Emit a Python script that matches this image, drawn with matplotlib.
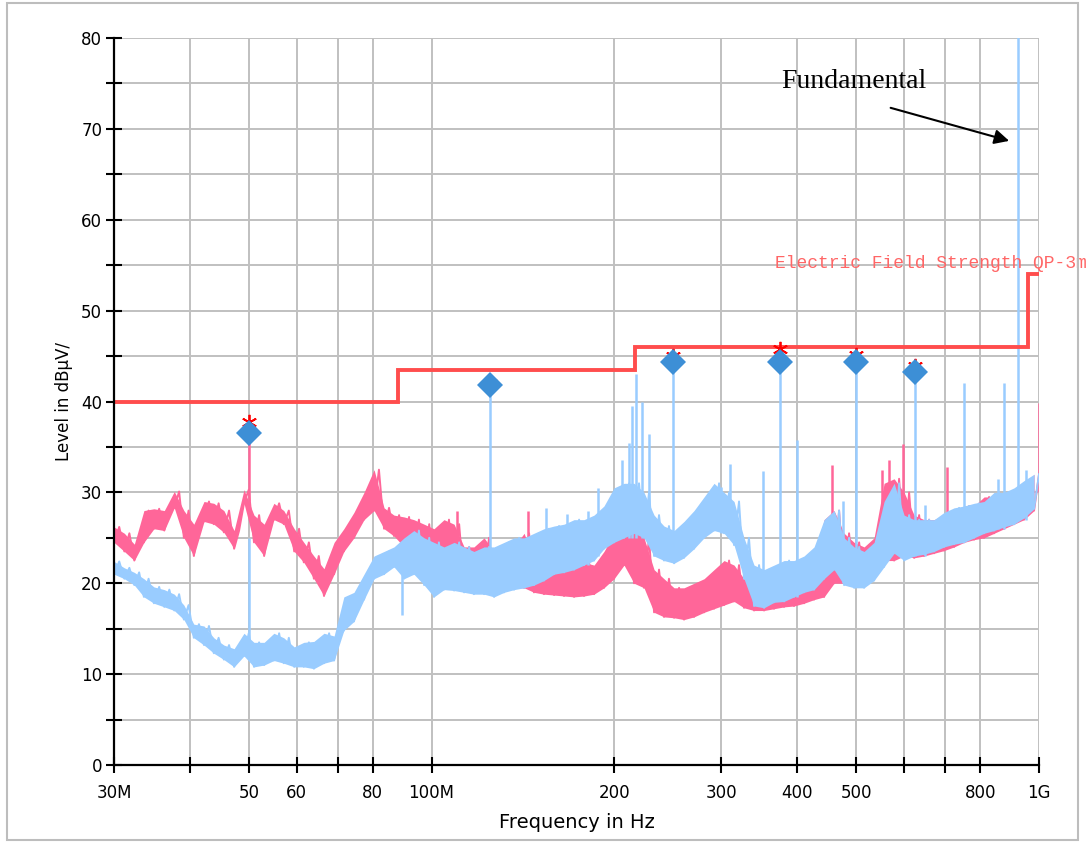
#!/usr/bin/env python3
"""Radiated emission scan 30 MHz - 1 GHz with QP limit line and peak markers."""

import matplotlib
matplotlib.use("Agg")
import matplotlib.pyplot as plt
from matplotlib.patches import Rectangle
from matplotlib.ticker import NullLocator, FixedLocator

# ===============================================================
# Data (MHz / dBuV)
# ===============================================================

# the scan is read as min / max pairs: the minimum at f_lo[i], the maximum at f_hi[i]
f_lo = [30.0, 31.2, 32.4, 33.6, 34.9, 36.3, 37.7, 39.1, 40.6, 42.2,
        43.8, 45.5, 47.3, 49.1, 51.0, 53.0, 55.0, 57.1, 59.4, 61.6,
        64.0, 66.5, 69.1, 71.7, 74.5, 77.4, 80.4, 83.5, 86.7, 90.1,
        93.5, 97.2, 100.9, 104.8, 108.9, 113.1, 117.4, 122.0, 126.7, 131.6,
        136.7, 142.0, 147.4, 153.1, 159.1, 165.2, 171.6, 178.2, 185.1, 192.2,
        199.7, 207.4, 215.4, 223.7, 232.4, 241.3, 250.7, 260.3, 270.4, 280.9,
        291.7, 303.0, 314.7, 326.8, 339.5, 352.6, 366.2, 380.4, 395.0, 410.3,
        426.2, 442.7, 459.8, 477.6, 496.1, 515.2, 535.1, 555.8, 577.3, 599.6,
        622.8, 646.8, 671.8, 697.8, 724.7, 752.7, 781.8, 811.9, 843.3, 875.9,
        909.7, 944.8, 981.3]
f_hi = [30.6, 31.8, 33.0, 34.2, 35.6, 37.0, 38.4, 39.8, 41.4, 43.0,
        44.6, 46.4, 48.2, 50.0, 52.0, 54.0, 56.1, 58.2, 60.5, 62.8,
        65.2, 67.8, 70.4, 73.1, 75.9, 78.9, 81.9, 85.1, 88.4, 91.8,
        95.3, 99.1, 102.8, 106.8, 111.0, 115.3, 119.6, 124.3, 129.1, 134.1,
        139.3, 144.7, 150.2, 156.0, 162.1, 168.4, 174.9, 181.6, 188.6, 195.9,
        203.5, 211.4, 219.5, 228.0, 236.8, 245.9, 255.5, 265.3, 275.6, 286.3,
        297.3, 308.8, 320.7, 333.0, 346.0, 359.3, 373.2, 387.7, 402.5, 418.1,
        434.3, 451.2, 468.6, 486.7, 505.6, 525.0, 545.3, 566.4, 588.3, 611.1,
        634.7, 659.2, 684.6, 711.1, 738.6, 767.1, 796.8, 827.4, 859.4, 892.6,
        927.1, 962.9, 1000.0]

# pink trace
pink_lo = [24.5, 23.5, 22.5, 24.5, 26.0, 25.8, 28.3, 25.0, 23.0, 26.8,
           26.5, 25.6, 23.8, 28.8, 24.5, 23.0, 27.0, 26.5, 23.5, 22.3,
           20.5, 18.6, 21.0, 23.5, 25.0, 27.0, 28.0, 26.0, 25.2, 24.0,
           23.0, 21.5, 21.0, 20.5, 20.5, 19.8, 19.5, 19.8, 19.5, 19.8,
           19.5, 19.5, 19.0, 18.8, 18.7, 18.6, 18.5, 18.6, 18.8, 19.5,
           20.5, 22.0, 20.0, 19.5, 16.8, 16.3, 16.2, 16.0, 16.3, 16.8,
           17.2, 17.6, 18.0, 17.3, 17.0, 17.0, 17.2, 17.4, 17.5, 17.8,
           18.2, 18.5, 20.0, 20.0, 19.8, 19.8, 20.5, 22.5, 22.5, 23.0,
           22.8, 23.0, 23.3, 23.6, 24.0, 24.5, 24.8, 25.0, 25.5, 26.0,
           26.5, 27.0, 28.0]
pink_hi = [26.2, 25.5, 24.3, 28.0, 28.2, 28.0, 30.1, 28.0, 26.5, 29.0,
           28.8, 28.0, 25.8, 30.3, 27.5, 26.5, 28.8, 28.0, 26.0, 24.5,
           23.0, 21.6, 24.5, 26.0, 27.8, 30.0, 32.5, 28.3, 27.5, 27.3,
           27.0, 26.5, 26.0, 27.0, 26.5, 24.0, 24.0, 25.0, 23.5, 23.0,
           24.0, 25.5, 22.5, 22.5, 22.0, 22.2, 22.0, 22.3, 22.0, 23.5,
           25.5, 27.0, 27.5, 25.0, 21.5, 20.5, 19.5, 19.5, 20.0, 20.5,
           21.5, 22.5, 22.0, 20.5, 19.5, 19.5, 19.8, 20.0, 20.0, 20.5,
           22.0, 27.0, 28.0, 25.5, 24.5, 24.0, 25.0, 31.0, 31.5, 30.0,
           27.5, 27.0, 27.0, 27.5, 28.0, 28.5, 28.5, 29.5, 29.5, 30.0,
           30.0, 30.5, 32.0]

# light blue trace
blue_lo = [21.0, 20.5, 19.8, 18.5, 17.8, 17.4, 17.0, 16.0, 14.0, 13.2,
           12.3, 11.6, 10.8, 12.0, 10.8, 11.0, 11.5, 11.2, 10.8, 10.8,
           10.6, 11.2, 11.5, 14.8, 15.8, 18.2, 20.5, 21.0, 21.8, 20.5,
           21.0, 19.8, 18.5, 19.3, 19.2, 19.0, 18.8, 18.8, 18.5, 19.0,
           19.3, 19.5, 19.8, 20.3, 21.0, 21.2, 21.5, 22.0, 22.5, 23.8,
           24.5, 25.0, 25.5, 25.0, 23.0, 22.5, 22.2, 22.8, 23.8, 25.0,
           25.8, 25.5, 24.2, 20.5, 17.5, 17.3, 17.9, 18.0, 18.5, 19.0,
           19.3, 20.5, 21.5, 19.8, 19.5, 19.5, 20.3, 21.8, 23.3, 22.5,
           23.0, 23.2, 23.5, 24.0, 24.3, 24.5, 25.0, 25.5, 25.8, 26.2,
           26.5, 27.2, 28.2]
blue_hi = [22.4, 21.7, 21.2, 20.5, 19.6, 19.3, 18.8, 17.6, 15.5, 15.3,
           14.0, 13.2, 12.8, 14.5, 13.5, 13.5, 14.5, 14.0, 13.0, 13.5,
           13.6, 14.5, 14.2, 18.5, 19.0, 21.0, 23.0, 23.5, 24.0, 25.0,
           25.8, 25.0, 24.5, 24.0, 24.5, 24.0, 23.5, 24.0, 24.0, 24.5,
           25.0, 25.0, 25.5, 26.0, 26.3, 26.5, 27.0, 27.0, 27.5, 28.5,
           30.5, 31.0, 31.0, 30.0, 27.5, 26.3, 25.8, 26.8, 28.0, 29.5,
           31.0, 30.0, 29.0, 25.0, 22.0, 21.5, 22.0, 22.5, 22.5, 23.0,
           24.0, 27.0, 28.0, 25.0, 24.0, 23.5, 24.5, 29.0, 31.0, 27.5,
           27.0, 27.0, 27.0, 27.8, 28.3, 28.5, 28.8, 29.0, 30.0, 30.0,
           30.5, 31.3, 32.0]

# narrow spikes: frequency, foot, top
blue_spike_f = [50, 89.5, 125, 154, 167, 181, 188, 206, 211, 214, 217, 222, 228,
                250, 300, 310, 351, 375, 400, 475, 500, 625, 650, 752, 855, 876,
                925, 950]
blue_spike_base = [12, 21, 19, 21, 22, 22, 23, 25, 25, 25, 25, 25, 25,
                   22.5, 25.5, 25, 18, 18, 18.5, 20, 20, 23, 23, 25, 26, 26,
                   27, 27]
blue_spike_top = [25, 16.5, 41.8, 28.3, 27.6, 27.9, 30.5, 33.6, 35.4, 39.5, 43.0, 40.0, 36.4,
                  44.3, 30.6, 33.1, 32.3, 44.4, 35.8, 29.0, 44.4, 43.2, 28.6, 42.0, 31.5, 42.0,
                  85.0, 32.5]

pink_spike_f = [50, 110, 144, 456, 552, 566, 597, 705, 1000]
pink_spike_base = [29, 21, 21, 20, 23, 23, 23, 24, 30]
pink_spike_top = [37.7, 28.0, 28.0, 33.0, 32.5, 33.6, 35.3, 32.8, 39.8]

# limit line (QP, 3 m)
limit_edges = [30, 88, 216, 960, 1000]
limit_levels = [40, 43.5, 46, 54]

# final measurement markers
peak_f = [50, 125, 250, 375, 500, 625]
peak_level = [36.5, 41.8, 44.3, 44.4, 44.4, 43.2]
qp_level = [37.7, 42.0, 45.0, 45.8, 45.1, 43.9]

xtick_vals = [30, 40, 50, 60, 70, 80, 100, 200, 300, 400, 500, 600, 700, 800, 1000]
xtick_text = ["30M", "", "50", "60", "", "80", "100M", "200", "300", "400",
              "500", "", "", "800", "1G"]

PINK = "#ff6699"
BLUE = "#99ccff"
LIMIT = "#ff4d4d"
GRID = "#c0c0c0"


def minmax_path(f_min, v_min, f_max, v_max):
    """Join the min / max readings into one zig-zag trace."""
    xs, ys = [], []
    for a, b, c, d in zip(f_min, v_min, f_max, v_max):
        xs += [a, c]
        ys += [b, d]
    return xs, ys


def draw_trace(ax, f_min, v_min, f_max, v_max, color, z):
    # solid body between the readings, zig-zag on top for the ragged edge
    ax.fill_between(f_min, v_min, v_max, color=color, lw=0, zorder=z)
    xs, ys = minmax_path(f_min, v_min, f_max, v_max)
    ax.plot(xs, ys, color=color, lw=1.4, zorder=z)


# ===============================================================
# Plot
# ===============================================================

fig = plt.figure(figsize=(10.92, 8.43), dpi=100)
ax = fig.add_axes([0.1044, 0.0925, 0.8471, 0.8624])

ax.set_xscale("log")
ax.set_xlim(30, 1000)
ax.set_ylim(0, 80)

# traces
draw_trace(ax, f_lo, pink_lo, f_hi, pink_hi, PINK, 2)
ax.vlines(pink_spike_f, pink_spike_base, pink_spike_top, color=PINK, lw=1.8, zorder=2)
draw_trace(ax, f_lo, blue_lo, f_hi, blue_hi, BLUE, 3)
ax.vlines(blue_spike_f, blue_spike_base, blue_spike_top, color=BLUE, lw=1.8, zorder=3)

# limit
ax.stairs(limit_levels, limit_edges, color=LIMIT, lw=2.8, baseline=None, zorder=4)

# markers
ax.plot(peak_f, qp_level, ls="none", marker=(6, 2, 0), ms=11, mew=1.3,
        color="red", zorder=5)
ax.plot(peak_f, peak_level, ls="none", marker="D", ms=13, mew=0,
        color="#3d8fd6", zorder=6)

# annotations
ax.text(496, 74.5, "Fundamental", family="Liberation Serif", fontsize=20,
        ha="center", va="baseline", color="black")
ax.annotate("", xy=(902, 68.6), xytext=(564, 72.4),
            arrowprops=dict(arrowstyle="-|>", color="black", lw=1.5,
                            mutation_scale=22))
ax.text(367, 55.2, "Electric Field Strength QP-3m", family="Liberation Mono",
        fontsize=13, color="#ff6666", ha="left", va="center", clip_on=False)

# axes formatting
ax.xaxis.set_major_locator(FixedLocator(xtick_vals))
ax.xaxis.set_minor_locator(NullLocator())
ax.set_xticklabels(xtick_text)
ax.set_yticks(range(0, 81, 10))
ax.set_yticks(range(5, 80, 10), minor=True)

ax.grid(True, which="major", axis="x", color=GRID, lw=1.4)
ax.grid(True, which="both", axis="y", color=GRID, lw=1.4)
ax.set_axisbelow(True)

for side in ("top", "right"):
    ax.spines[side].set_visible(False)
for side in ("left", "bottom"):
    ax.spines[side].set_linewidth(1.6)
    ax.spines[side].set_zorder(7)

ax.tick_params(axis="both", which="both", direction="inout", length=11, width=1.5,
               labelsize=12)
ax.tick_params(axis="x", pad=8)
ax.tick_params(axis="y", pad=3)

ax.set_xlabel("Frequency in Hz", fontsize=14, labelpad=8)
ax.set_ylabel("Level in dBµV/", fontsize=12, labelpad=6)

# outer frame
fig.patches.append(Rectangle((7 / 1092, 3 / 843), 1071 / 1092, 837 / 843,
                             transform=fig.transFigure, fill=False,
                             edgecolor="#bdbdbd", lw=1.5))

fig.savefig("out.png", dpi=100)
